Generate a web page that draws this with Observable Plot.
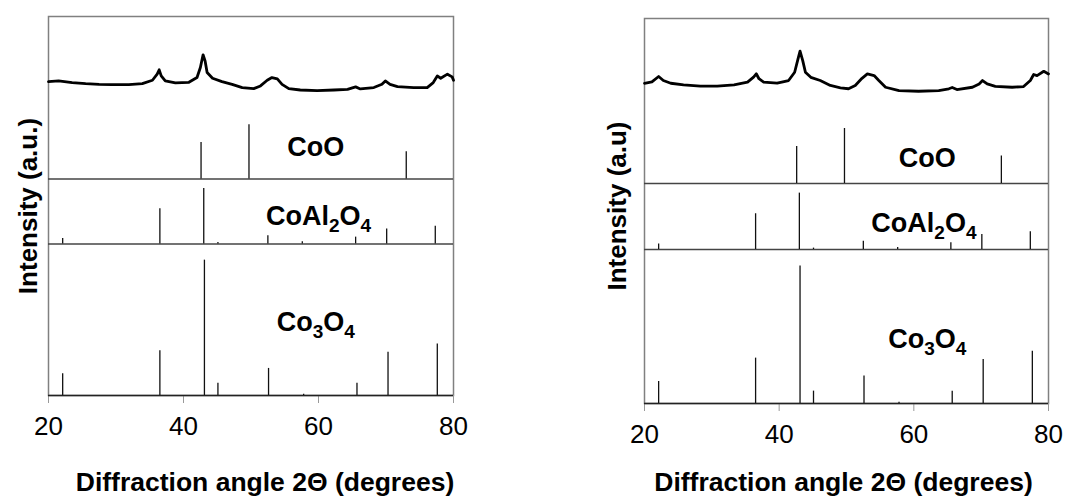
<!DOCTYPE html>
<html>
<head>
<meta charset="utf-8">
<script src="https://cdn.jsdelivr.net/npm/d3@7"></script>
<script src="https://cdn.jsdelivr.net/npm/@observablehq/plot@0.6"></script>
<style>
  html, body { margin: 0; padding: 0; background: #fff; }
  #wrap { position: relative; width: 1065px; height: 501px; overflow: hidden; background: #fff; }
  .panel { position: absolute; top: 0; }
</style>
</head>
<body>
<div id="wrap">
  <div class="panel" id="left" style="left:0px"></div>
  <div class="panel" id="right" style="left:560px"></div>
</div>
<script>
// ---------- Data ----------
// Reference stick patterns (2θ in degrees, relative intensity)
const cooAngle = [42.6, 49.7, 73.0];
const cooIntensity = [27, 40, 20];
const coal2o4Angle = [22.1, 36.5, 43.0, 45.1, 52.5, 57.6, 65.5, 70.1, 77.3];
const coal2o4Intensity = [4, 26, 41, 1, 6, 1.5, 5, 11, 13];
const co3o4Angle = [22.1, 36.5, 43.1, 45.1, 52.6, 57.8, 65.7, 70.3, 77.6];
const co3o4Intensity = [16, 33, 100, 9, 20, 1, 9, 32, 38];

// Measured pattern, left sample
const sampleAAngle = [20.0, 21.5, 23.5, 25.5, 27.5, 29.4, 31.9, 33.9, 35.4, 36.1, 36.4, 36.7, 37.3, 38.8, 40.8, 42.0, 42.5, 42.9, 43.2, 43.5, 44.3, 45.7, 47.2, 48.7, 50.4, 51.4, 52.4, 53.1, 53.9, 54.6, 55.6, 57.3, 59.8, 62.3, 64.3, 65.5, 66.2, 68.2, 69.4, 69.9, 70.6, 71.7, 74.1, 76.1, 77.0, 77.6, 78.1, 79.1, 79.8, 80.0];
const sampleAIntensity = [6.9, 7.4, 6.2, 5.4, 4.9, 4.7, 4.7, 5.4, 7.9, 12.4, 15.6, 11.1, 7.4, 5.9, 6.4, 9.9, 17.3, 26.7, 22.2, 13.6, 9.4, 6.9, 4.9, 2.5, 1.7, 3.7, 7.9, 9.9, 8.9, 4.9, 1.7, 0.7, 0.2, 0.7, 1.2, 3.0, 1.5, 2.5, 4.9, 7.4, 4.9, 3.2, 2.5, 2.5, 6.2, 11.1, 9.4, 12.4, 10.4, 7.9];

// Measured pattern, right sample
const sampleBAngle = [20.0, 21.1, 22.1, 22.8, 23.9, 25.8, 28.3, 30.8, 33.3, 35.3, 36.2, 36.6, 37.0, 37.7, 39.7, 41.4, 42.3, 42.8, 43.1, 43.5, 43.9, 44.7, 46.1, 47.6, 49.1, 50.3, 51.3, 52.3, 53.1, 54.1, 54.8, 55.8, 57.8, 60.7, 63.7, 65.2, 65.7, 66.4, 68.7, 69.7, 70.2, 70.9, 72.1, 74.6, 76.3, 77.3, 77.8, 78.3, 79.3, 80.0];
const sampleBIntensity = [7.9, 8.9, 12.8, 9.9, 7.9, 6.8, 5.8, 5.8, 6.8, 8.7, 12.4, 14.8, 11.2, 8.7, 8.0, 9.9, 15.9, 25.7, 31.2, 24.4, 15.9, 12.2, 9.9, 6.3, 4.6, 3.9, 6.3, 11.5, 14.7, 13.5, 9.9, 5.0, 2.6, 2.1, 2.6, 3.9, 4.8, 3.3, 5.0, 7.4, 9.9, 7.4, 5.7, 5.0, 5.5, 9.9, 14.3, 13.5, 16.6, 14.7];

const phaseNames = ["CoO", "CoAl2O4", "Co3O4"];
const xTicks = [20, 40, 60, 80];
const xTitle = "Diffraction angle 2\u0398 (degrees)";
const yTitles = ["Intensity (a.u.)", "Intensity (a.u)"];

// ---------- Layout (stack offsets in y units) ----------
const BASE = {CoO: 160, CoAl2O4: 112, Co3O4: 0};
const TRACE_BASE = 225;
const FONT = "'Liberation Sans', Arial, Helvetica, sans-serif";

function sticks(name, angles, ints) {
  return angles.map((a, i) => ({x: a, b: BASE[name], t: BASE[name] + ints[i]}));
}

function addSubscripts(svg) {
  svg.querySelectorAll("text").forEach(t => {
    const s = t.textContent;
    if (!phaseNames.includes(s) || !/\d/.test(s)) return;
    while (t.firstChild) t.removeChild(t.firstChild);
    let sub = false;
    for (const ch of s) {
      const ts = document.createElementNS("http://www.w3.org/2000/svg", "tspan");
      ts.textContent = ch;
      if (/\d/.test(ch)) {
        ts.setAttribute("font-size", "19");
        if (!sub) ts.setAttribute("dy", "7");
        sub = true;
      } else {
        if (sub) ts.setAttribute("dy", "-7");
        sub = false;
      }
      t.appendChild(ts);
    }
  });
}

function panel(cfg) {
  const trace = cfg.angle.map((a, i) => ({x: a, y: cfg.intensity[i] + TRACE_BASE}));
  const allSticks = [
    ...sticks("CoO", cooAngle, cooIntensity),
    ...sticks("CoAl2O4", coal2o4Angle, coal2o4Intensity),
    ...sticks("Co3O4", co3o4Angle, co3o4Intensity)
  ];
  const labels = phaseNames.map((n, i) => ({text: n, x: cfg.labelX[i], y: cfg.labelY[i]}));
  const svg = Plot.plot({
    width: cfg.width,
    height: 501,
    marginLeft: cfg.marginLeft,
    marginRight: 17,
    marginTop: cfg.marginTop,
    marginBottom: cfg.marginBottom,
    x: {domain: [20, 80]},
    y: {domain: [0, 280], axis: null},
    style: {fontFamily: FONT, color: "#000", background: "white", overflow: "visible"},
    marks: [
      Plot.frame({stroke: "#808080", strokeWidth: 1.5}),
      Plot.ruleY([BASE.CoAl2O4, BASE.CoO], {stroke: "#444", strokeWidth: 1.5}),
      Plot.ruleX(allSticks, {x: "x", y1: "b", y2: "t", stroke: "#111", strokeWidth: 1.3}),
      Plot.line(trace, {x: "x", y: "y", stroke: "#000", strokeWidth: 2.8, strokeLinejoin: "round"}),
      Plot.axisX({ticks: xTicks, tickSize: 8, tickPadding: 13, label: null, stroke: "#999", fontSize: 26, fill: "#000"}),
      Plot.ruleY([0], {stroke: "#222", strokeWidth: 1.5}),
      Plot.text(labels, {x: "x", y: "y", text: "text", fontSize: 27, fontWeight: "bold", fill: "#000"}),
      Plot.text([cfg.yTitle], {frameAnchor: "left", textAnchor: "middle", rotate: -90, dx: cfg.yTitleDx, dy: cfg.yTitleDy, fontSize: 26, fontWeight: "bold", fill: "#000"}),
      Plot.text([xTitle], {frameAnchor: "bottom", dy: cfg.xTitleDy, dx: cfg.xTitleDx, fontSize: 26.5, fontWeight: "bold", fill: "#000"})
    ]
  });
  addSubscripts(svg);
  return svg;
}

document.getElementById("left").appendChild(panel({
  angle: sampleAAngle, intensity: sampleAIntensity,
  width: 470, marginLeft: 48, marginTop: 16, marginBottom: 106,
  labelX: [59.6, 60.0, 59.6], labelY: [183, 132, 54],
  yTitle: yTitles[0], yTitleDx: -20, yTitleDy: 0,
  xTitleDy: 95, xTitleDx: 14
}));
document.getElementById("right").appendChild(panel({
  angle: sampleBAngle, intensity: sampleBIntensity,
  width: 505, marginLeft: 84, marginTop: 18, marginBottom: 98,
  labelX: [62.0, 61.5, 62.0], labelY: [178, 131, 47],
  yTitle: yTitles[1], yTitleDx: -27, yTitleDy: -5,
  xTitleDy: 87, xTitleDx: -3
}));
</script>
</body>
</html>
